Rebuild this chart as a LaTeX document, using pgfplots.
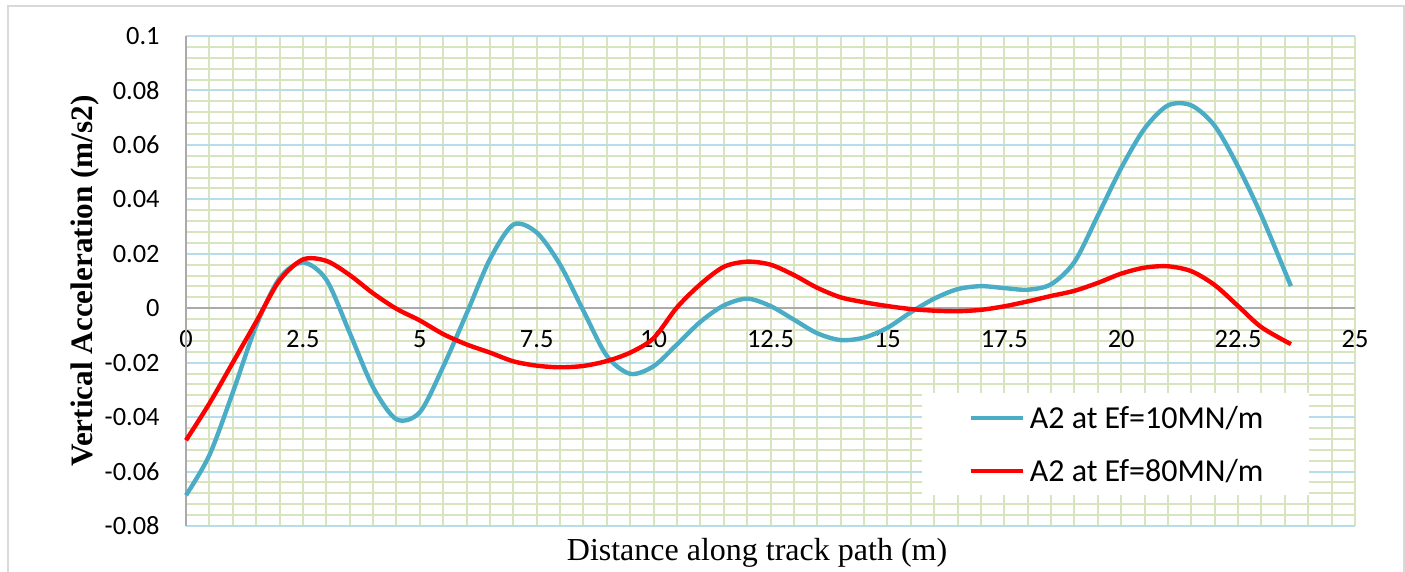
\documentclass[border=0pt]{standalone}
\usepackage{pgfplots}
\pgfplotsset{compat=1.18}
\usepackage{fontspec}
\setmainfont{Carlito}
\newfontfamily\timesfont{Liberation Serif}
\definecolor{lineblue}{RGB}{75,172,198}
\definecolor{gridblue}{RGB}{183,222,232}
\definecolor{gridgreen}{RGB}{215,228,189}
\definecolor{axisgray}{RGB}{170,170,170}
\definecolor{bordergray}{RGB}{217,217,217}

\begin{document}
\begin{tikzpicture}
\useasboundingbox (-93pt,-23pt) rectangle (609.5pt,263pt);
\draw[bordergray, line width=1pt] (-88.75pt,-30pt) -- (-88.75pt,259.75pt) -- (608.75pt,259.75pt) -- (608.75pt,-30pt);
\begin{axis}[
  at={(0,0)}, anchor=south west,
  scale only axis, width=584.5pt, height=245pt,
  xmin=0, xmax=25, ymin=-0.08, ymax=0.1,
  clip=false,
  axis line style={draw=none},
  tick style={draw=none},
  major tick length=0pt, minor tick length=0pt,
  xtick={0,2.5,5,7.5,10,12.5,15,17.5,20,22.5,25},
  xticklabels={0,2.5,5,7.5,10,12.5,15,17.5,20,22.5,25},
  ytick={-0.08,-0.06,-0.04,-0.02,0,0.02,0.04,0.06,0.08,0.1},
  yticklabels={-0.08,-0.06,-0.04,-0.02,0,0.02,0.04,0.06,0.08,0.1},
  minor x tick num=4, minor y tick num=4,
  grid=both,
  minor grid style={color=gridgreen, line width=1pt},
  major grid style={color=gridgreen, line width=1pt},
  extra y ticks={-0.08,-0.06,-0.04,-0.02,0,0.02,0.04,0.06,0.08,0.1},
  extra y tick labels={},
  extra y tick style={grid=major, major grid style={color=gridblue, line width=1pt}},
  ticklabel style={font=\fontsize{13.2}{15}\selectfont, inner sep=0pt},
  xticklabel style={anchor=center, yshift=93.5pt},
  yticklabel style={anchor=east, xshift=-13pt},
  every axis y label/.style={at={(axis description cs:-0.0864,0.5)}, rotate=90, anchor=center, font=\timesfont\bfseries\fontsize{15.6}{18}\selectfont},
  every axis x label/.style={at={(axis description cs:0.4885,-0.0714)}, anchor=base, font=\timesfont\fontsize{16}{19}\selectfont},
  ylabel={Vertical Acceleration (m/s2)},
  xlabel={Distance along track path (m)},
  legend style={at={(axis description cs:0.6296,0.2714)}, anchor=north west, draw=none, fill=white,
    inner xsep=23pt, inner ysep=1.25pt, row sep=4.5pt,
    font=\fontsize{16}{19}\selectfont,
    nodes={inner sep=0pt, text height=16.1pt, text depth=5.9pt},
    /tikz/every odd column/.style={column sep=2.5pt}},
  legend cell align=left,
  legend image code/.code={\draw[#1] (0pt,0pt) -- (26pt,0pt);},
]
\addplot[axisgray, line width=1pt, forget plot] coordinates {(0,0) (25,0)};
\addplot[axisgray, line width=1pt, forget plot] coordinates {(0,-0.08) (0,0.1)};
\addplot[lineblue, line width=2.2pt, smooth] coordinates {
(0,-0.0687) (0.5,-0.054) (1.0,-0.031) (1.5,-0.0065) (2.0,0.011) (2.5,0.0168)
(3.0,0.0105) (3.5,-0.009) (4.0,-0.029) (4.5,-0.0408) (5.0,-0.0382)
(5.5,-0.0215) (6.0,-0.002) (6.5,0.018) (7.0,0.0307) (7.5,0.0278)
(8.0,0.016) (8.5,-0.001) (9.0,-0.0175) (9.5,-0.0241) (10.0,-0.0213)
(10.5,-0.0133) (11.0,-0.005) (11.5,0.001) (12.0,0.0035) (12.5,0.0008)
(13.0,-0.0042) (13.5,-0.0092) (14.0,-0.0117) (14.5,-0.0108) (15.0,-0.0072)
(15.5,-0.0015) (16.0,0.0035) (16.5,0.0070) (17.0,0.0081) (17.5,0.0074)
(18.0,0.0068) (18.5,0.0088) (19.0,0.017) (19.5,0.034) (20.0,0.0515)
(20.5,0.066) (21.0,0.0745) (21.5,0.0745) (22.0,0.067) (22.5,0.052)
(23.0,0.034) (23.63,0.0081)
};
\addlegendentry{A2 at Ef=10MN/m}
\addplot[red, line width=2.2pt, smooth] coordinates {
(0,-0.0485) (0.5,-0.035) (1.0,-0.020) (1.5,-0.005) (2.0,0.0102) (2.5,0.0179)
(3.0,0.0174) (3.5,0.0122) (4.0,0.0055) (4.5,-0.0002) (5.0,-0.0045)
(5.5,-0.0095) (6.0,-0.0133) (6.5,-0.0163) (7.0,-0.0195) (7.5,-0.0211)
(8.0,-0.0217) (8.5,-0.0212) (9.0,-0.0194) (9.5,-0.0163) (10.0,-0.011)
(10.5,0.0003) (11.0,0.0088) (11.5,0.0152) (12.0,0.0171) (12.5,0.0160)
(13.0,0.0122) (13.5,0.0075) (14.0,0.0040) (14.5,0.0022) (15.0,0.0008)
(15.5,-0.0003) (16.0,-0.0009) (16.5,-0.0011) (17.0,-0.0006) (17.5,0.0007)
(18.0,0.0025) (18.5,0.0045) (19.0,0.0064) (19.5,0.0093) (20.0,0.0127)
(20.5,0.0149) (21.0,0.0154) (21.5,0.0136) (22.0,0.0085) (22.5,0.0008)
(23.0,-0.007) (23.63,-0.0132)
};
\addlegendentry{A2 at Ef=80MN/m}
\end{axis}
\end{tikzpicture}
\end{document}
